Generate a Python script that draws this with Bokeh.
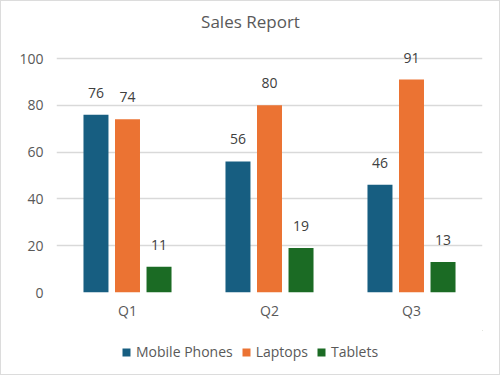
from bokeh.plotting import figure
from bokeh.layouts import column
from bokeh.models import ColumnDataSource, FactorRange, LabelSet, Legend, LegendItem, FixedTicker
from bokeh.transform import dodge
from bokeh.core.properties import value
from bokeh.embed import file_html
from bokeh.resources import INLINE

quarters = ["Q1", "Q2", "Q3"]
mobile = [76, 56, 46]
laptops = [74, 80, 91]
tablets = [11, 19, 13]
series_names = ["Mobile Phones", "Laptops", "Tablets"]
colors = ["#175E81", "#EB7333", "#1B6B24"]
y_ticks = [0, 20, 40, 60, 80, 100]
title_text = "Sales Report"

FONT = "Open Sans"
TXT = "#595959"

# ---- title strip (frame is aligned with main frame: figure x 55..481) ----
tf = figure(width=498, height=36, output_backend="svg", toolbar_location=None,
            x_range=(55, 481), y_range=(0, 36), min_border=0,
            min_border_left=55, min_border_right=17,
            x_axis_type=None, y_axis_type=None)
tf.grid.visible = False
tf.outline_line_color = None
tf.text(x=[249], y=[16], text=[title_text], text_align="center", text_baseline="middle",
        text_font=value(FONT), text_font_size="17px", text_color=TXT)

# ---- main chart ----
src = ColumnDataSource(dict(q=quarters, mobile=mobile, laptops=laptops, tablets=tablets,
                            mobile_t=[str(v) for v in mobile],
                            laptops_t=[str(v) for v in laptops],
                            tablets_t=[str(v) for v in tablets]))

p = figure(x_range=FactorRange(*quarters, range_padding=0), y_range=(0, 108.12),
           width=498, height=293, output_backend="svg", toolbar_location=None,
           min_border_left=55, min_border_right=17, min_border_top=2, min_border_bottom=38)
p.outline_line_color = None

offsets = [-0.222, 0.0, 0.222]
fields = ["mobile", "laptops", "tablets"]
for f, off, c in zip(fields, offsets, colors):
    p.vbar(x=dodge("q", off, range=p.x_range), top=f, width=0.176, source=src,
           fill_color=c, line_color=None)
    lbl = LabelSet(x=dodge("q", off, range=p.x_range), y=f, text=f + "_t", source=src,
                   text_align="center", text_baseline="bottom", y_offset=17,
                   text_font=value(FONT), text_font_size=value("14px"), text_color="#404040")
    p.add_layout(lbl)

p.yaxis.ticker = FixedTicker(ticks=y_ticks)
for ax in (p.xaxis, p.yaxis):
    ax.axis_line_color = None
    ax.major_tick_line_color = None
    ax.minor_tick_line_color = None
    ax.major_label_text_font = FONT
    ax.major_label_text_font_size = "14px"
    ax.major_label_text_color = TXT
p.yaxis.major_label_standoff = 7
p.xaxis.major_label_standoff = 2
p.xgrid.grid_line_color = None
p.ygrid.grid_line_color = "#d9d9d9"
p.ygrid.grid_line_width = 1.5

# ---- legend strip ----
lg = figure(width=498, height=44, output_backend="svg", toolbar_location=None,
            x_range=(0, 1), y_range=(0, 1), min_border=0,
            min_border_left=55, min_border_right=17,
            x_axis_type=None, y_axis_type=None)
lg.grid.visible = False
lg.outline_line_color = None
items = []
for c, name in zip(colors, series_names):
    r = lg.vbar(x=[5], top=[5], bottom=[4], width=0.1, fill_color=c, line_color=None)
    items.append(LegendItem(label=name, renderers=[r]))
legend = Legend(items=items, orientation="horizontal", location=(65, 13),
                glyph_width=10, glyph_height=10, label_standoff=5, spacing=8,
                label_text_font=FONT, label_text_font_size="14px", label_text_color=TXT,
                border_line_color=None, background_fill_alpha=0, padding=0, margin=0)
lg.add_layout(legend)

layout = column(tf, p, lg, spacing=0, styles={"border": "1px solid #dcdcdc"})
open("out.html", "w").write(file_html(layout, INLINE))
